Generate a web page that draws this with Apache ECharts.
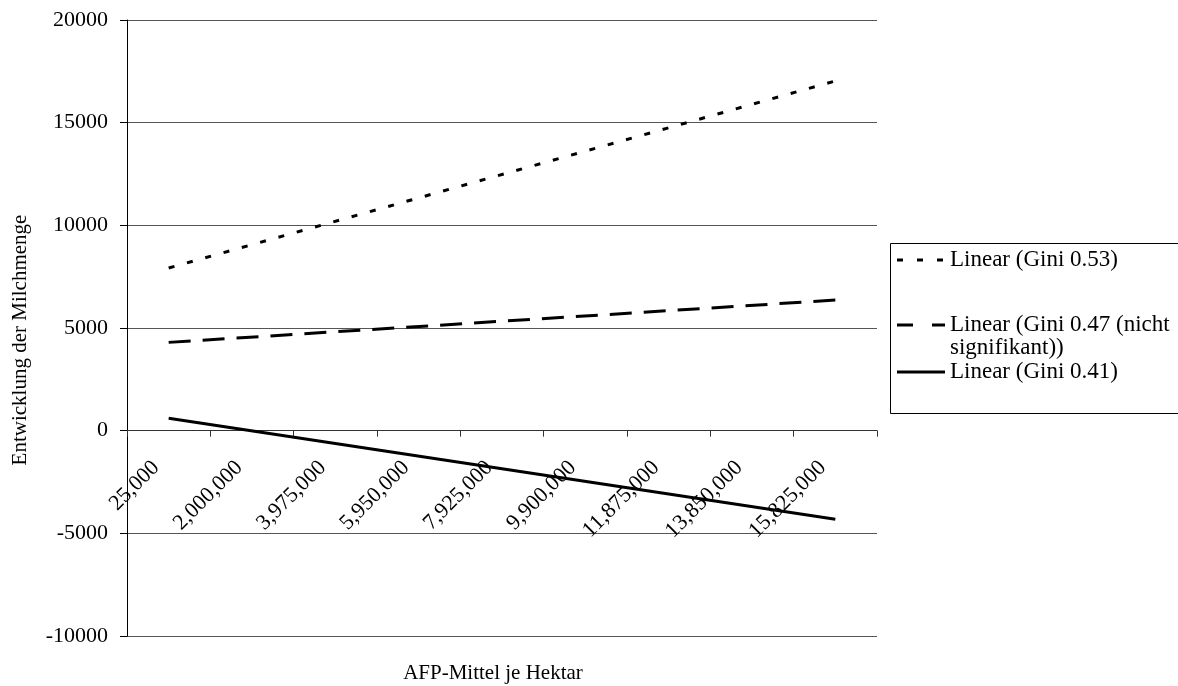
<!DOCTYPE html>
<html>
<head>
<meta charset="utf-8">
<script src="https://cdn.jsdelivr.net/npm/echarts@6/dist/echarts.min.js"></script>
<style>
  html, body { margin: 0; padding: 0; background: #fff; }
  #chart { width: 1178px; height: 686px; }
</style>
</head>
<body>
<div id="chart"></div>
<script>
// AFP funding per hectare (category labels on the x axis)
const categories = ['25,000', '2,000,000', '3,975,000', '5,950,000', '7,925,000',
                    '9,900,000', '11,875,000', '13,850,000', '15,825,000'];

// Linear trend lines: value at the first and at the last category
const seriesNames = ['Linear (Gini 0.53)', 'Linear (Gini 0.47 (nicht\nsignifikant))', 'Linear (Gini 0.41)'];
const gini053 = [7920, 17030];
const gini047 = [4300, 6360];
const gini041 = [600, -4310];

const yTicks = { min: -10000, max: 20000, interval: 5000 };

const FONT = '"Liberation Serif", "Times New Roman", serif';
const GRID = { left: 127, right: 301, top: 20, bottom: 50 };
const plotHeight = 686 - GRID.top - GRID.bottom;
// the category axis sits on the zero line of the value axis
const zeroOffset = -plotHeight * (0 - yTicks.min) / (yTicks.max - yTicks.min);

const chart = echarts.init(document.getElementById('chart'), null, { renderer: 'canvas' });

function ends(vals) {
  return [[categories[0], vals[0]], [categories[categories.length - 1], vals[1]]];
}

const lineDefs = [
  { vals: gini053, dash: [6, 13], legendDash: [6, 14] },
  { vals: gini047, dash: [22, 12], legendDash: [16, 19] },
  { vals: gini041, dash: null, legendDash: null }
];

const series = lineDefs.map((d, i) => ({
  type: 'line',
  name: seriesNames[i],
  data: ends(d.vals),
  symbol: 'none',
  silent: true,
  animation: false,
  lineStyle: { color: '#000', width: 3, type: d.dash || 'solid', cap: 'butt' }
}));

// Legend box drawn as graphic elements
const legendX = 890.5, legendY = 243.5;
const rowY = [260, 325, 372];
const legendItems = [];
legendItems.push({
  type: 'rect', shape: { x: legendX, y: legendY, width: 320, height: 170 },
  style: { fill: '#fff', stroke: '#000', lineWidth: 1 }
});
lineDefs.forEach((d, i) => {
  legendItems.push({
    type: 'line', shape: { x1: 897, y1: rowY[i], x2: 945, y2: rowY[i] },
    style: { stroke: '#000', lineWidth: 3, lineDash: d.legendDash || null }
  });
  legendItems.push({
    type: 'text', x: 950, y: rowY[i] - 12,
    style: { text: seriesNames[i], font: '23px ' + FONT, fill: '#000',
             verticalAlign: 'top', lineHeight: 23 }
  });
});

chart.setOption({
  animation: false,
  grid: Object.assign({ containLabel: false, outerBoundsMode: 'none' }, GRID),
  xAxis: {
    type: 'category',
    data: categories,
    boundaryGap: true,
    offset: zeroOffset,
    axisLine: { onZero: false, lineStyle: { color: '#333', width: 1 } },
    axisTick: { show: true, length: 6, inside: false, lineStyle: { color: '#333' } },
    axisLabel: { rotate: 45, margin: 21, padding: [0, 18, 0, 0], interval: 0,
                 color: '#000', fontSize: 22, fontFamily: FONT },
    splitLine: { show: false }
  },
  yAxis: {
    type: 'value',
    min: yTicks.min, max: yTicks.max, interval: yTicks.interval,
    axisLine: { show: true, lineStyle: { color: '#000', width: 1 } },
    axisTick: { show: true, length: 7, lineStyle: { color: '#000' } },
    axisLabel: { margin: 19, color: '#000', fontSize: 22, fontFamily: FONT,
                 formatter: v => String(v) },
    splitLine: { show: true, lineStyle: { color: '#555', width: 1 } }
  },
  series: series,
  graphic: [
    {
      type: 'text', x: 493, y: 673,
      style: { text: 'AFP-Mittel je Hektar', font: '21px ' + FONT, fill: '#000',
               align: 'center', verticalAlign: 'middle' }
    },
    {
      type: 'text', x: 20, y: 340, rotation: Math.PI / 2,
      style: { text: 'Entwicklung der Milchmenge', font: '21px ' + FONT, fill: '#000',
               align: 'center', verticalAlign: 'middle' }
    }
  ].concat(legendItems)
});
</script>
</body>
</html>
